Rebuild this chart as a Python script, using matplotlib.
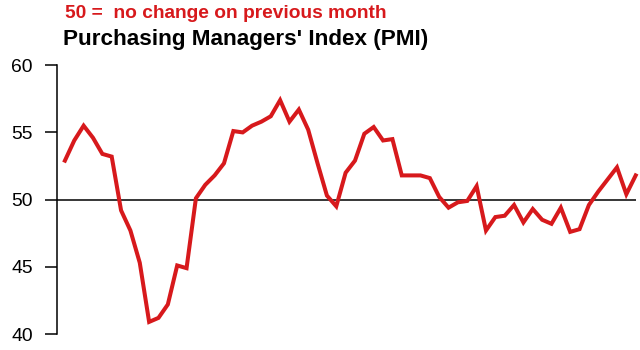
import matplotlib
matplotlib.use("Agg")
import matplotlib.pyplot as plt

# monthly PMI readings
pmi = [52.9, 54.4, 55.5, 54.6, 53.4, 53.2, 49.2, 47.7, 45.3, 40.9,
       41.2, 42.2, 45.1, 44.9, 50.1, 51.1, 51.8, 52.7, 55.1, 55.0,
       55.5, 55.8, 56.2, 57.4, 55.8, 56.7, 55.2, 52.7, 50.3, 49.5,
       52.0, 52.9, 54.9, 55.4, 54.4, 54.5, 51.8, 51.8, 51.8, 51.6,
       50.2, 49.4, 49.8, 49.9, 51.0, 47.7, 48.7, 48.8, 49.6, 48.3,
       49.3, 48.5, 48.2, 49.4, 47.6, 47.8, 49.6, 50.6, 51.5, 52.4,
       50.4, 51.8]
yticks = [40, 45, 50, 55, 60]
baseline = 50

plt.rcParams['font.family'] = ['Liberation Sans', 'DejaVu Sans']

fig = plt.figure(figsize=(6.4, 3.5), dpi=100)
ax = fig.add_axes([0.089, 0.0457, 0.905, 0.768])

ax.axhline(baseline, color='black', lw=1.1, zorder=1)
ax.plot(range(len(pmi)), pmi, color='#d7191c', lw=2.9, solid_joinstyle='miter', zorder=2, clip_on=False)

ax.set_xlim(-0.85, len(pmi) - 0.95)
ax.set_ylim(40, 60)
ax.set_yticks(yticks)
ax.tick_params(axis='y', length=8.5, width=1.1, pad=9, labelsize=13.9)
ax.set_xticks([])
for s in ['top', 'right', 'bottom']:
    ax.spines[s].set_visible(False)
ax.spines['left'].set_linewidth(1.1)

fig.text(0.102, 0.962, '50 =  no change on previous month', color='#d7191c',
         fontsize=13.75, fontweight='bold', va='center', ha='left')
fig.text(0.099, 0.886, "Purchasing Managers' Index (PMI)", color='black',
         fontsize=16.2, fontweight='bold', va='center', ha='left')

fig.savefig('out.png', dpi=100)
